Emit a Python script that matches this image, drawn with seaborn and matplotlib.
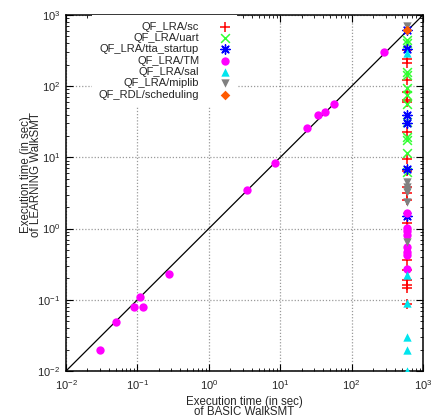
import numpy as np
import pandas as pd
import matplotlib
matplotlib.use("Agg")
import matplotlib.pyplot as plt
import seaborn as sns
from matplotlib.ticker import LogLocator, NullFormatter

sns.set_theme(style="white")
plt.rcParams["font.family"] = ["Liberation Sans", "DejaVu Sans"]
plt.rcParams["mathtext.fontset"] = "custom"
plt.rcParams["mathtext.rm"] = "Liberation Sans"
plt.rcParams["mathtext.it"] = "Liberation Sans"
plt.rcParams["mathtext.default"] = "regular"

TIMEOUT = 600.0

# Benchmark families and their runtimes (seconds): BASIC (x) vs LEARNING (y)
sc_basic = [TIMEOUT] * 20
sc_learn = [320, 238, 214, 122, 84, 64, 60, 23, 9.4, 6.5, 3.8, 3.2, 2.5,
            1.19, 0.36, 0.26, 0.19, 0.16, 0.145, 0.088]

uart_basic = [TIMEOUT] * 12
uart_learn = [446, 400, 160, 144, 93, 75, 57, 31.7, 19.5, 17.5, 11.4, 6.3]

tta_basic = [TIMEOUT] * 6
tta_learn = [610, 329, 39, 30, 6.8, 1.5]

tm_basic = [0.03, 0.05, 0.09, 0.11, 0.12, 0.28, 3.4, 8.5, 24, 34, 43, 56, 280,
            TIMEOUT, TIMEOUT, TIMEOUT, TIMEOUT, TIMEOUT, TIMEOUT, TIMEOUT, TIMEOUT]
tm_learn = [0.02, 0.049, 0.08, 0.11, 0.08, 0.23, 3.5, 8.3, 26, 39, 44, 56, 300,
            1.67, 1.02, 0.92, 0.82, 0.55, 0.47, 0.42, 0.27]

sal_basic = [TIMEOUT] * 6
sal_learn = [295, 0.22, 0.091, 0.030, 0.020, 0.010]

miplib_basic = [TIMEOUT] * 7
miplib_learn = [700, 4.56, 3.9, 3.5, 3.3, 2.39, 0.65]

rdl_basic = [TIMEOUT]
rdl_learn = [620]

series = [
    ("QF_LRA/sc", sc_basic, sc_learn),
    ("QF_LRA/uart", uart_basic, uart_learn),
    ("QF_LRA/tta_startup", tta_basic, tta_learn),
    ("QF_LRA/TM", tm_basic, tm_learn),
    ("QF_LRA/sal", sal_basic, sal_learn),
    ("QF_LRA/miplib", miplib_basic, miplib_learn),
    ("QF_RDL/scheduling", rdl_basic, rdl_learn),
]

styles = {
    "QF_LRA/sc": dict(color="#ff0000", marker="+", s=55, linewidth=1.1),
    "QF_LRA/uart": dict(color="#33ff33", marker="x", s=40, linewidth=1.1),
    "QF_LRA/tta_startup": dict(color="#0000ff", marker=(8, 2, 0), s=45, linewidth=1.0),
    "QF_LRA/TM": dict(color="#ff00ff", marker="o", s=36, linewidth=0),
    "QF_LRA/sal": dict(color="#00e5ee", marker="^", s=36, linewidth=0),
    "QF_LRA/miplib": dict(color="#808080", marker="v", s=36, linewidth=0),
    "QF_RDL/scheduling": dict(color="#ff5a00", marker="D", s=24, linewidth=0),
}

frames = []
for name, xb, yl in series:
    frames.append(pd.DataFrame({"basic": xb, "learning": yl, "family": name}))
data = pd.concat(frames, ignore_index=True)

lo, hi = 1e-2, 1e3

fig = plt.figure(figsize=(4.34, 4.18), dpi=100)
ax = fig.add_axes([66 / 434, 47 / 418, 357 / 434, 356 / 418])
ax.set_xscale("log")
ax.set_yscale("log")
ax.set_xlim(lo, hi)
ax.set_ylim(lo, hi)

# y = x reference diagonal
ax.axline((lo, lo), (hi, hi), color="black", linewidth=0.9, zorder=2)

for name, _, _ in series:
    sub = data[data["family"] == name]
    sns.scatterplot(data=sub, x="basic", y="learning", ax=ax, label=name,
                    zorder=3, **styles[name])

ax.grid(True, which="major", color="#9a9a9a", linestyle=(0, (1, 1.5)),
        linewidth=0.9, zorder=0)
ax.grid(False, which="minor")

for axis in (ax.xaxis, ax.yaxis):
    axis.set_major_locator(LogLocator(base=10, numticks=10))
    axis.set_minor_locator(LogLocator(base=10, subs=np.arange(2, 10), numticks=20))
    axis.set_minor_formatter(NullFormatter())

ax.tick_params(which="both", direction="in", top=True, right=True,
               bottom=True, left=True, color="black", labelsize=8)
ax.tick_params(which="major", length=5, width=0.8)
ax.tick_params(axis="x", which="major", pad=5)
ax.tick_params(axis="y", which="major", pad=4)
ax.tick_params(which="minor", length=2.5, width=0.6)

for sp in ax.spines.values():
    sp.set_color("black")
    sp.set_linewidth(1.1)

ax.set_xlabel("Execution time (in sec)\nof BASIC WalkSMT", fontsize=8.3,
              linespacing=0.8)
ax.xaxis.set_label_coords((244 - 66) / 357, -(407 - 371) / 356)
ax.xaxis.label.set_verticalalignment("center")

ax.set_ylabel("Execution time (in sec)\nof LEARNING WalkSMT", fontsize=8.3,
              linespacing=0.8)
ax.yaxis.set_label_coords(-(66 - 31) / 357, (371 - 175) / 356)
ax.yaxis.label.set_verticalalignment("center")

leg = ax.legend(loc="upper right", bbox_to_anchor=((237 - 66) / 357, 1.0),
                markerfirst=False, frameon=True, fancybox=False,
                facecolor="white", edgecolor="none", framealpha=1.0,
                fontsize=8, labelspacing=0.12, handletextpad=1.8,
                handlelength=1.0, borderpad=0.6, borderaxespad=0.0)
leg.set_zorder(5)

fig.savefig("out.png", dpi=100)
